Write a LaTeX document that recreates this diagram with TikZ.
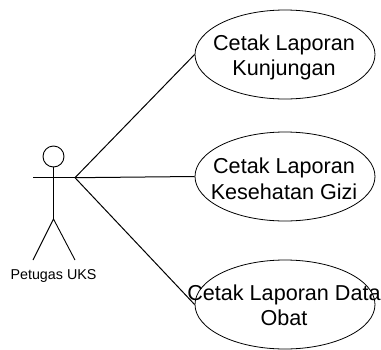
\documentclass[tikz,border=0pt]{standalone}
\usepackage{fontspec}
\setmainfont{Liberation Sans}
\usetikzlibrary{shapes.geometric}
\tikzset{
  usecase/.style={draw=black,line width=0.8pt,ellipse,minimum width=180pt,minimum height=89pt,inner sep=0pt},
  casetext/.style={align=center,font=\fontsize{21.6}{25.5}\selectfont,inner sep=0pt,text=black},
  limb/.style={draw=black,line width=0.9pt},
  assoc/.style={draw=black,line width=1pt}
}
\begin{document}
\begin{tikzpicture}[x=1pt,y=-1pt]
\useasboundingbox (0,0) rectangle (381,349);
\clip (0,0) rectangle (381,349);
\node[usecase] (uc1) at (285,54.5) {};
\node[usecase] (uc2) at (285,176.5) {};
\node[usecase] (uc3) at (285,304.5) {};
\node[casetext] (t1) at (284,57.5) {Cetak Laporan\\Kunjungan};
\node[casetext] (t2) at (284,179) {Cetak Laporan\\Kesehatan Gizi};
\node[casetext] (t3) at (284,305.5) {Cetak Laporan Data\\Obat};
% actor
\node[circle,draw=black,line width=0.9pt,minimum size=21pt,inner sep=0pt] (head) at (53.5,156.5) {};
\coordinate (hip) at (53.5,219);
\coordinate (lhand) at (33,177.7);
\coordinate (rhand) at (75,177.7);
\coordinate (lfoot) at (33,260);
\coordinate (rfoot) at (75,260);
\draw[limb] (head.south) -- (hip);
\draw[limb] (lhand) -- (rhand);
\draw[limb] (lfoot) -- (hip) -- (rfoot);
\node[font=\fontsize{14.3}{16}\selectfont,inner sep=0pt] (actor) at (53.5,276) {Petugas UKS};
% associations
\draw[assoc] (rhand) -- (uc1.west);
\draw[assoc] (rhand) -- (uc2.west);
\draw[assoc] (rhand) -- (uc3.west);
\end{tikzpicture}
\end{document}
